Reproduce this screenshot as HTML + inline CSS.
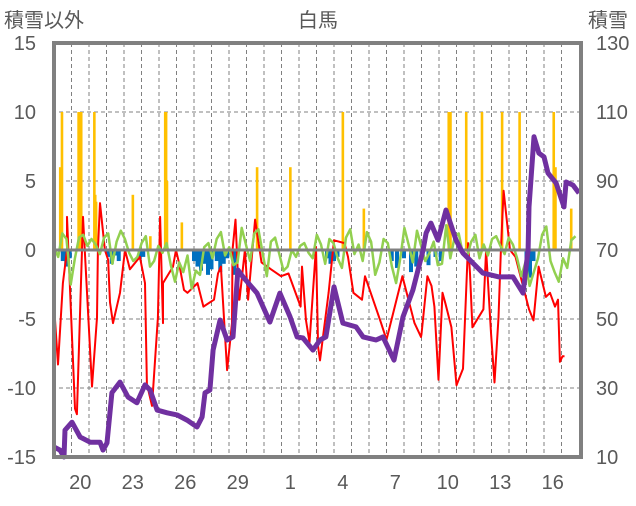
<!DOCTYPE html>
<html><head><meta charset="utf-8">
<style>
html,body{margin:0;padding:0;background:#fff;}
svg text{font-family:"Liberation Sans","Noto Sans CJK JP",sans-serif;fill:#595959;}
</style></head>
<body>
<svg id="chart" width="636" height="501" viewBox="0 0 636 501" xmlns="http://www.w3.org/2000/svg">
<text x="318" y="27" font-size="20" text-anchor="middle">白馬</text>
<text x="4" y="27" font-size="20">積雪以外</text>
<text x="588" y="27" font-size="20">積雪</text>
<g id="grid"></g>
<g id="bars"></g>
<g id="lines"></g>
<g id="axes"></g>
</svg>
<script>
// ---- data ----
const xTickLabels = ["20","23","26","29","1","4","7","10","13","16"];
const xTickDays = [1,4,7,10,13,16,19,22,25,28];
const leftTicks = [15,10,5,0,-5,-10,-15];
const rightTicks = [130,110,90,70,50,30,10];
const orangeDays = [0.35,0.45,1.4,1.45,1.5,1.55,2.3,2.35,2.4,4.5,5.5,6.35,6.4,6.45,7.3,11.6,13.5,16.5,17.7,22.55,22.6,22.65,23.55,24.45,25.6,26.6,28.55,28.65,29.55];
const orangeVals = [6,10,10,10,6,10,10,4,3.5,4,1,10,10,5,2,6,6,10,3,10,10,10,10,10,10,10,10,6,3];
const blueDays = [0.5,0.7,0.9,3.1,3.3,3.5,3.7,4.9,5.1,8.0,8.2,8.4,8.6,8.8,9.0,9.3,9.5,9.7,9.9,10.3,15.6,15.8,16.0,16.2,19.3,19.6,20.0,20.4,20.7,21.0,21.4,21.8,22.1,27.0,27.2,27.4];
const blueVals = [-0.8,-1.2,-0.6,-0.5,-1.0,-0.4,-0.8,-0.7,-0.5,-0.8,-1.2,-1.5,-1.0,-1.8,-1.4,-0.8,-1.6,-1.0,-0.6,-1.8,-0.6,-1.0,-0.8,-0.5,-0.8,-1.3,-0.6,-1.6,-1.2,-0.7,-1.1,-0.5,-0.8,-1.4,-2.0,-0.8];
const redDays = [-0.06,0.23,0.51,0.74,0.74,1.2,1.31,1.6,1.66,2.17,2.46,2.51,2.63,2.91,3.09,3.2,3.37,3.77,4.06,4.34,4.91,5.2,5.31,5.6,5.94,6.06,6.23,6.23,6.8,6.97,7.14,7.43,7.63,8.2,8.54,9.14,9.37,9.54,9.89,10.17,10.2,10.37,10.57,10.6,10.91,11.09,11.49,11.86,12.4,12.97,13.4,14.09,14.17,14.4,14.6,14.97,15.09,15.2,15.69,16.0,16.6,16.8,17.11,17.6,17.77,18.69,19.0,19.91,20.6,20.97,21.0,21.34,21.57,21.74,21.97,22.2,22.37,22.71,23.0,23.37,23.66,23.77,23.91,24.54,24.69,24.97,25.17,25.4,25.54,25.69,26.06,26.37,27.14,27.4,27.69,28.11,28.34,28.63,28.8,28.91,29.06,29.17];
const redVals = [-2.9,-8.3,-2.4,0,2.4,-11.5,-11.9,0,2.4,-9.9,-4.9,0,3.4,0,-0.7,-3.8,-5.3,-3.1,0,-1.4,-0.5,-2.4,-9.7,-11.3,-4.9,2.4,-5.3,-2.4,-1.2,0,-0.9,-2.9,-3.1,-2.4,-4.1,-3.6,-1.7,-1.2,-8.7,-5.3,0,2.2,-3.6,-3.6,0,-3.6,2.2,-0.9,-1.4,-1.9,-1.7,-4.1,-1.2,-5.1,-6.7,0.2,-7.0,-8.0,-3.1,0.7,0.5,-0.5,-3.1,-3.6,-1.9,-5.3,-6.5,-1.9,-5.3,-6.3,-6.1,-1.9,-2.6,-4.1,-9.4,-3.1,-3.9,-5.6,-9.8,-8.6,0.5,-1.7,-5.6,-4.3,0,-6.0,-9.6,-4.9,0,4.3,0,-0.5,-4.3,-5.1,-1.2,-3.4,-3.1,-4.1,-3.6,-8.1,-7.7,-7.7];
const greenVals = [0.2,-0.5,1.2,0.8,-2.5,-0.6,0.9,1.1,0.3,0.8,0.4,-0.3,0.9,1.2,-1.0,0.6,1.4,0.8,-0.2,-0.8,-0.5,0.5,1.0,-1.2,-0.8,0.3,-0.2,0.5,-1.1,-2.3,-0.9,-1.6,-0.4,-2.8,-1.5,-1.8,0.2,0.5,-0.6,0.8,1.3,-0.4,0.2,-1.1,-0.9,1.6,0.4,-0.8,1.2,1.5,-0.2,-1.9,0.6,0.9,-0.3,-1.5,-1.2,0,-0.5,0.3,0.5,-0.2,-0.6,1.1,0.4,-1.0,0.8,0.5,-0.6,-1.3,0.9,1.5,-0.3,0.4,-0.8,1.3,0.6,-1.8,-0.9,0.8,0.5,-1.2,-2.4,-0.6,1.6,0.4,-0.9,1.4,0.3,-0.8,-0.2,0.6,-1.1,-1.0,1.8,-0.6,0.9,1.2,-0.3,-0.5,0.6,1.1,-0.6,0.4,-0.4,0.8,1.0,0.3,-0.3,0.9,0.4,-0.6,-1.9,-0.9,-2.6,-1.6,-0.6,1.1,1.7,-0.8,-1.6,-2.3,-0.6,-1.3,0.7,1.0];
const purpleX = [0,0.34,0.57,0.63,1.03,1.49,2.06,2.63,2.8,3.03,3.31,3.77,4.23,4.74,5.2,5.49,5.89,6.46,7.03,7.6,8.17,8.46,8.63,8.91,9.09,9.49,9.89,10.23,10.51,10.8,11.6,12.34,12.91,13.49,13.89,14.23,14.8,15.2,15.54,16.0,16.51,17.26,17.66,18.4,18.8,19.43,19.94,20.51,21.09,21.26,21.54,21.94,22.4,22.97,23.26,23.37,24.51,25.43,26.23,26.8,27.09,27.14,27.43,27.71,28.0,28.23,28.69,29.14,29.26,29.66,30.0];
const purpleSeries = [12.9,12.0,10,17.8,20.1,15.8,14.3,14.3,12,14.1,28.6,31.7,27.4,25.7,30.9,29.4,23.6,22.8,22.2,20.7,18.7,21.6,28.6,29.4,41,49.7,43.9,44.8,64.2,62.2,57.5,49.1,57.5,50.6,44.8,44.5,41,43.9,44.8,59.3,48.8,47.7,44.8,43.9,44.8,38.1,50.6,58.4,70,74.9,77.8,72.9,81.6,72.9,70,69.1,63.3,62.2,62.2,57.5,70,82.5,102.8,98.1,97,92.3,89.4,82.5,89.7,88.8,86.5];
</script>
<script>
const NS="http://www.w3.org/2000/svg";
const X0=54, DAY=17.5, PL=52, PR=581, PT=43, PB=457;
const xS=d=>X0+d*DAY;
const yL=v=>250 - v*(PB-PT)/30;
const yR=v=>PB - (v-10)*(PB-PT)/120;
function mk(tag,attrs,parent){const e=document.createElementNS(NS,tag);for(const k in attrs)e.setAttribute(k,attrs[k]);parent.appendChild(e);return e;}
const grid=document.getElementById('grid'),bars=document.getElementById('bars'),lines=document.getElementById('lines'),axes=document.getElementById('axes');
leftTicks.forEach((v,i)=>{
  if(v!==0&&v!==15&&v!==-15){const l=mk('line',{x1:PL,x2:PR,y1:yL(v),y2:yL(v),stroke:'#808080','stroke-width':1,'stroke-dasharray':'4,3'},grid);
  
  }
  const t=mk('text',{x:36,y:yL(v)+7,'font-size':20,'text-anchor':'end'},axes);t.textContent=v;
  
  
});
rightTicks.forEach(v=>{
  const t=mk('text',{x:596,y:yR(v)+7,'font-size':20},axes);t.textContent=v;
  
  
});
for(let d=1;d<30;d++){
  const l=mk('line',{x1:xS(d),x2:xS(d),y1:PT,y2:PB,stroke:'#808080','stroke-width':1,'stroke-dasharray':'4,3'},grid);
  
  
}
xTickLabels.forEach((s,i)=>{
  const t=mk('text',{x:xS(xTickDays[i]+0.5),y:489,'font-size':20,'text-anchor':'middle'},axes);t.textContent=s;
  
  
});
orangeDays.forEach((d,i)=>{
  const b=mk('rect',{x:xS(d)-1.2,y:yL(orangeVals[i]),width:2.6,height:yL(0)-yL(orangeVals[i]),fill:'#FFC000'},bars);
  
  
});
blueDays.forEach((d,i)=>{
  const b=mk('rect',{x:xS(d)-2,y:yL(0),width:4,height:yL(blueVals[i])-yL(0),fill:'#0070C0'},bars);
  
  
});
function poly(xs,ys,yf,color,w,name){
  const pts=[];for(let i=0;i<Math.min(xs.length,ys.length);i++)pts.push(xS(xs[i]).toFixed(1)+','+yf(ys[i]).toFixed(1));
  const p=mk('polyline',{points:pts.join(' '),fill:'none',stroke:color,'stroke-width':w,'stroke-linejoin':'round'},lines);
  
  
}
poly(redDays,redVals,yL,'#FF0000',2,'temperature-line');
const greenDays=greenVals.map((v,i)=>i*29.8/(greenVals.length-1));
poly(greenDays,greenVals,yL,'#92D050',2.5,'change-line');
const z=mk('line',{x1:PL,x2:PR,y1:yL(0),y2:yL(0),stroke:'#808080','stroke-width':3},lines);


poly(purpleX,purpleSeries,yR,'#7030A0',5,'snow-depth-line');
const f=mk('rect',{x:PL+2,y:PT,width:PR-PL-2,height:PB-PT,fill:'none',stroke:'#808080','stroke-width':4},axes);


</script>
</body></html>
